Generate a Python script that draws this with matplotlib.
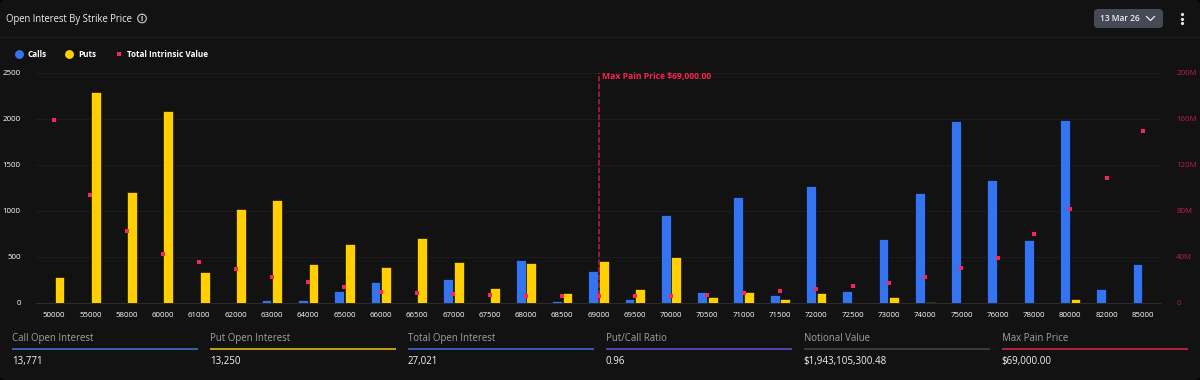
import matplotlib
matplotlib.use("Agg")
import matplotlib.pyplot as plt
import numpy as np
from matplotlib.lines import Line2D
from matplotlib.patches import FancyBboxPatch, Circle

plt.rcParams['font.family'] = ['Open Sans', 'DejaVu Sans']

strikes = [50000, 55000, 58000, 60000, 61000, 62000, 63000, 64000, 65000, 66000, 66500,
           67000, 67500, 68000, 68500, 69000, 69500, 70000, 70500, 71000, 71500,
           72000, 72500, 73000, 74000, 75000, 76000, 78000, 80000, 82000, 85000]
calls = [0, 0, 0, 0, 0, 0, 25, 25, 120, 220, 0,
         255, 0, 460, 15, 345, 40, 950, 110, 1150, 80,
         1265, 120, 695, 1195, 1975, 1330, 680, 1985, 145, 415]
puts = [280, 2290, 1200, 2080, 330, 1015, 1110, 415, 635, 385, 700,
        435, 155, 430, 105, 455, 145, 495, 60, 115, 35,
        100, 0, 55, 10, 0, 0, 0, 35, 0, 0]
intrinsic_m = [158.7, 93.5, 62, 42.6, 35.6, 28.7, 22, 18, 13.5, 9.5, 8,
               7, 6.5, 5.5, 5.5, 5.5, 5.5, 6, 6.5, 8, 10,
               12, 14, 17, 22.6, 30, 38.7, 59.5, 81.7, 108, 148.7]
left_ticks = [0, 500, 1000, 1500, 2000, 2500]
right_ticks = [0, 40, 80, 120, 160, 200]
right_labels = ['0', '40M', '80M', '120M', '160M', '200M']
max_pain_strike = 69000
stat_labels = ['Call Open Interest', 'Put Open Interest', 'Total Open Interest',
               'Put/Call Ratio', 'Notional Value', 'Max Pain Price']
stat_values = ['13,771', '13,250', '27,021', '0.96', '$1,943,105,300.48', '$69,000.00']
stat_colors = ['#4a74d8', '#f2c80f', '#3f6fe0', '#6f4bd8', '#45474d', '#e0264f']

BG = '#121212'
BLUE = '#3574f0'
YEL = '#ffcf00'
RED = '#f5265a'
W, H = 1200, 380

fig = plt.figure(figsize=(W / 100, H / 100), dpi=100, facecolor='#050505')

# chrome layer in pixel coordinates
ui = fig.add_axes([0, 0, 1, 1], zorder=0)
ui.set_xlim(0, W)
ui.set_ylim(H, 0)
ui.axis('off')
ui.add_patch(FancyBboxPatch((4, 4), W - 8, H - 8, boxstyle='round,pad=4,rounding_size=6',
                            fc=BG, ec='none'))
ui.plot([0, W], [36.5, 36.5], color='#1e1e1e', lw=1)
ui.text(6, 19.5, 'Open Interest By Strike Price', color='#f0f0f0', fontsize=6.85, va='center', ha='left')
ui.add_patch(Circle((142, 18.5), 4.3, fc='none', ec='#cfcfcf', lw=0.8))
ui.text(142, 18.7, 'i', color='#e0e0e0', fontsize=5.5, va='center', ha='center', fontweight='bold')
ui.add_patch(FancyBboxPatch((1097, 12), 63, 13, boxstyle='round,pad=3,rounding_size=4',
                            fc='#454a55', ec='none'))
ui.text(1100, 18.7, '13 Mar 26', color='#eceef2', fontsize=6.0, va='center', ha='left', fontweight='semibold')
ui.plot([1146.5, 1150.5, 1154.5], [16.5, 20.5, 16.5], color='#eceef2', lw=0.9)
ui.plot([1181.5] * 3, [13.5, 18.5, 23], ls='none', marker='o', ms=2.3, color='#e8e8e8', mew=0)

for i, (lab, val, col) in enumerate(zip(stat_labels, stat_values, stat_colors)):
    x0 = 12 + i * 198
    ui.plot([x0 - 0.3, x0 + 186], [349, 349], color=col, lw=1.1, solid_capstyle='butt')
    ui.text(x0 - 0.3, 338.5, lab, color='#a0a0a0', fontsize=6.95, va='center', ha='left')
    ui.text(x0 - 0.3, 361.5, val, color='#f4f4f4', fontsize=7.05, va='center', ha='left')

# chart
x_left, x_right, y_top, y_bot = 36, 1161, 72.5, 302.5
ax = fig.add_axes([x_left / W, 1 - y_bot / H, (x_right - x_left) / W, (y_bot - y_top) / H], zorder=2)
ax.patch.set_alpha(0)
pos = np.arange(len(strikes))
off, bw = 0.146, 0.27
ax.bar(pos - off, calls, bw, color=BLUE, edgecolor='#000000', linewidth=0.4, zorder=3, label='Calls')
ax.bar(pos + off, puts, bw, color=YEL, edgecolor='#000000', linewidth=0.4, zorder=3, label='Puts')
ax.set_xlim(-0.5, len(strikes) - 0.5)
ax.set_ylim(0, 2500)
ax.set_xticks(pos, [str(s) for s in strikes])
ax.set_yticks(left_ticks, [str(t) for t in left_ticks])
ax.tick_params(axis='x', length=0, pad=7, labelsize=5.7, labelcolor='#ffffff')
ax.tick_params(axis='y', length=0, pad=11, labelsize=5.7, labelcolor='#ffffff')
ax.grid(axis='y', color='#1c1c1c', lw=0.8, zorder=0)
ax.set_axisbelow(True)
for s in ['top', 'left', 'right']:
    ax.spines[s].set_visible(False)
ax.spines['bottom'].set_color('#2c2c2c')
ax.spines['bottom'].set_linewidth(0.8)

mp = strikes.index(max_pain_strike)
ax.axvline(mp, color='#c01a4a', lw=1.1, ls=(0, (3.5, 1.5)), zorder=4)
ax.annotate('Max Pain Price $69,000.00', xy=(mp, 2500), xytext=(4, -4.5), textcoords='offset pixels',
            color='#f5264f', fontsize=6.2, fontweight='bold', va='center', ha='left', zorder=6)

ax2 = ax.twinx()
ax2.set_zorder(3)
ax2.patch.set_alpha(0)
ax2.scatter(pos, intrinsic_m, marker='s', s=7, color=RED, linewidths=0, zorder=5, label='Total Intrinsic Value')
ax2.set_ylim(0, 200)
ax2.set_yticks(right_ticks, right_labels)
ax2.tick_params(axis='y', length=0, pad=11, labelsize=5.7, labelcolor='#c01d47')
for s in ax2.spines.values():
    s.set_visible(False)

handles = [Line2D([], [], ls='none', marker='o', ms=6.4, color=BLUE, mew=0, label='Calls'),
           Line2D([], [], ls='none', marker='o', ms=6.4, color=YEL, mew=0, label='Puts'),
           Line2D([], [], ls='none', marker='s', ms=2.6, color=RED, mew=0, label='Total Intrinsic Value')]
leg = fig.legend(handles=handles, ncol=3, frameon=False, loc='center left',
                 bbox_to_anchor=(13 / W, 1 - 54.5 / H), labelcolor='#ffffff',
                 handlelength=1.46, handletextpad=0.35, columnspacing=2.0, borderpad=0, borderaxespad=0,
                 prop={'weight': 'bold', 'size': 5.9})

fig.savefig('out.png', dpi=100, facecolor=fig.get_facecolor())
